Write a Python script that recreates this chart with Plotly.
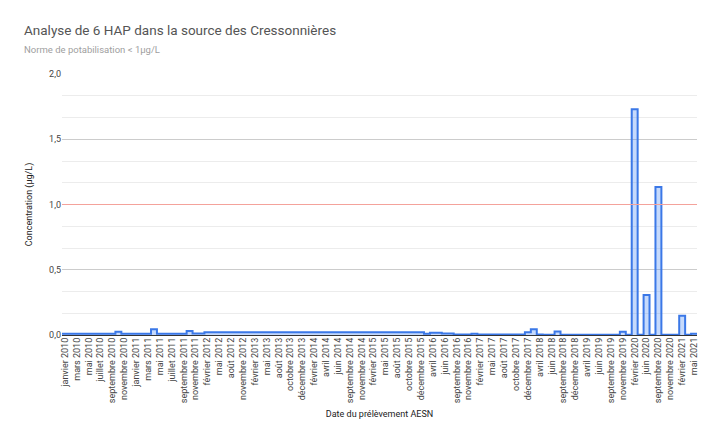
import numpy as np
import plotly.graph_objects as go

# dates of the samples (one category per sample, every other one is labelled)
dates = [
    "janvier 2010", "février 2010", "mars 2010", "avril 2010", "mai 2010", "juin 2010",
    "juillet 2010", "août 2010", "septembre 2010", "octobre 2010", "novembre 2010", "décembre 2010",
    "janvier 2011", "février 2011", "mars 2011", "avril 2011", "mai 2011", "juin 2011",
    "juillet 2011", "août 2011", "septembre 2011", "octobre 2011", "novembre 2011", "décembre 2011",
    "février 2012", "mars 2012", "mai 2012", "juillet 2012", "août 2012", "octobre 2012",
    "novembre 2012", "janvier 2013", "février 2013", "avril 2013", "mai 2013", "juillet 2013",
    "août 2013", "septembre 2013", "octobre 2013", "novembre 2013", "décembre 2013", "janvier 2014",
    "février 2014", "mars 2014", "avril 2014", "mai 2014", "juin 2014", "juillet 2014",
    "septembre 2014", "octobre 2014", "novembre 2014", "janvier 2015", "février 2015", "avril 2015",
    "mai 2015", "juillet 2015", "août 2015", "septembre 2015", "octobre 2015", "novembre 2015",
    "décembre 2015", "février 2016", "avril 2016", "mai 2016", "juin 2016", "juillet 2016",
    "septembre 2016", "octobre 2016", "novembre 2016", "janvier 2017", "février 2017", "avril 2017",
    "mai 2017", "juillet 2017", "août 2017", "septembre 2017", "octobre 2017", "novembre 2017",
    "décembre 2017", "février 2018", "avril 2018", "mai 2018", "juin 2018", "juillet 2018",
    "septembre 2018", "octobre 2018", "décembre 2018", "février 2019", "avril 2019", "mai 2019",
    "juin 2019", "juillet 2019", "septembre 2019", "octobre 2019", "novembre 2019", "décembre 2019",
    "février 2020", "avril 2020", "juin 2020", "juillet 2020", "septembre 2020", "octobre 2020",
    "novembre 2020", "janvier 2021", "février 2021", "avril 2021", "mai 2021",
]

# somme des 6 HAP (µg/L)
hap = [
    0.010, 0.010, 0.010, 0.010, 0.010, 0.010, 0.010, 0.010, 0.010, 0.025, 0.010, 0.010,
    0.010, 0.010, 0.010, 0.045, 0.010, 0.010, 0.010, 0.010, 0.010, 0.030, 0.012, 0.012,
    0.022, 0.022, 0.022, 0.022, 0.022, 0.022, 0.022, 0.022, 0.022, 0.022, 0.022, 0.022,
    0.022, 0.022, 0.022, 0.022, 0.022, 0.022, 0.022, 0.022, 0.022, 0.022, 0.022, 0.022,
    0.022, 0.022, 0.022, 0.022, 0.022, 0.022, 0.022, 0.022, 0.022, 0.022, 0.022, 0.022,
    0.022, 0.010, 0.018, 0.018, 0.012, 0.012, 0.004, 0.004, 0.004, 0.010, 0.004, 0.004,
    0.004, 0.004, 0.004, 0.004, 0.004, 0.004, 0.022, 0.044, 0.003, 0.002, 0.002, 0.027,
    0.002, 0.002, 0.002, 0.002, 0.002, 0.002, 0.002, 0.002, 0.002, 0.002, 0.025, 0.002,
    1.730, 0.002, 0.306, 0.002, 1.134, 0.002, 0.002, 0.002, 0.148, 0.002, 0.010,
]

NORME = 1.0  # norme de potabilisation

n = len(dates)
idx = np.arange(n)
# stepped area: each sample fills its whole category slot
x_edges = np.append(idx - 0.5, n - 0.5)
y_steps = np.append(hap, hap[-1])

fig = go.Figure()
fig.add_trace(go.Scatter(
    x=x_edges, y=y_steps, mode="lines", line_shape="hv",
    line=dict(color="#3b78e7", width=2),
    fill="tozeroy", fillcolor="rgba(66,133,244,0.3)",
    hoverinfo="skip", showlegend=False,
))
fig.add_trace(go.Scatter(
    x=[x_edges[0], x_edges[-1]], y=[NORME, NORME], mode="lines",
    line=dict(color="#f4a29b", width=1.2),
    hoverinfo="skip", showlegend=False,
))

# the page body adds an 8px margin, so the figure is 8px smaller than the window
fig.update_layout(
    width=712, height=437,
    margin=dict(l=54, r=23, t=66, b=110),
    paper_bgcolor="white", plot_bgcolor="white",
    font=dict(family="Roboto, Arial, sans-serif", color="#222222"),
    separators=", ",
)
# title + subtitle, placed like the Sheets chart
fig.add_annotation(
    text="Analyse de 6 HAP dans la source des Cressonnières",
    xref="paper", yref="paper", x=(22 - 62) / 635, y=(335 - 30) / 261,
    xanchor="left", yanchor="middle", showarrow=False,
    font=dict(size=13.5, color="#555555"),
)
fig.add_annotation(
    text="Norme de potabilisation < 1µg/L",
    xref="paper", yref="paper", x=(22 - 62) / 635, y=(335 - 50) / 261,
    xanchor="left", yanchor="middle", showarrow=False,
    font=dict(size=9.5, color="#a0a0a0"),
)
fig.update_xaxes(
    range=[-0.5, n - 0.5], automargin=False,
    tickmode="array", tickvals=idx[::2], ticktext=dates[::2],
    tickangle=-90, tickfont=dict(size=9, color="#444444"),
    showgrid=False, zeroline=False, showline=False, ticks="",
    title=dict(text="Date du prélèvement AESN", font=dict(size=9, color="#222222"), standoff=8),
)
fig.update_yaxes(
    range=[0, 2], dtick=0.5, tickformat=".1f", automargin=False,
    tickfont=dict(size=9, color="#444444"),
    gridcolor="#cccccc", gridwidth=1, zeroline=True, zerolinecolor="#333333", zerolinewidth=1,
    minor=dict(dtick=0.5 / 3, showgrid=True, gridcolor="#ececec"),
    title=dict(text="Concentration (µg/L)", font=dict(size=9, color="#222222"), standoff=14),
)

fig.write_html("out.html")
